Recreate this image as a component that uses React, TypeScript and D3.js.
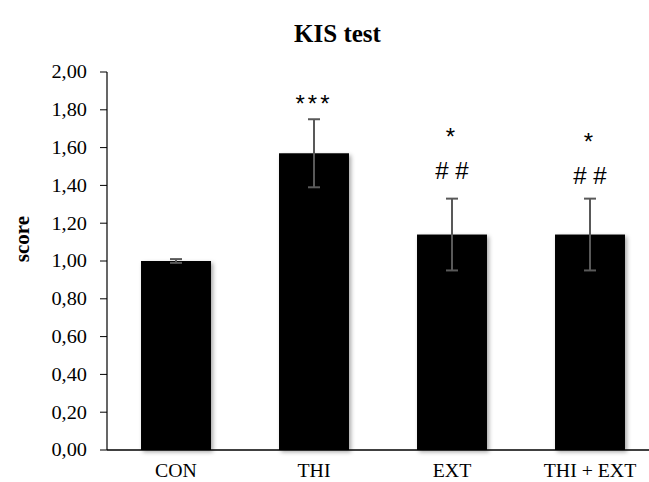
import React from "react";
import * as d3 from "d3";

const categories = ["CON", "THI", "EXT", "THI + EXT"];
const means = [1.0, 1.57, 1.14, 1.14];
const errors = [0.01, 0.18, 0.19, 0.19];
const starLabels = ["", "***", "*", "*"];
const hashLabels = ["", "", "# #", "# #"];
const yTicks = [0, 0.2, 0.4, 0.6, 0.8, 1.0, 1.2, 1.4, 1.6, 1.8, 2.0];

// layout only: small vertical nudge of annotation groups
const annotNudge = [0, 0, 0, 5];

const W = 649;
const H = 482;
const left = 107;
const top = 72;
const bottom = 450;
const step = 138;

export default function App() {
  const x = d3
    .scaleBand<string>()
    .domain(categories)
    .range([left, left + step * categories.length])
    .paddingInner(0.493)
    .paddingOuter(0.2465);
  const y = d3.scaleLinear().domain([0, 2]).range([bottom, top]);
  const fmt = (v: number) => v.toFixed(2).replace(".", ",");
  const serif = "'Liberation Serif', 'Times New Roman', serif";
  const sans = "'Liberation Sans', Arial, sans-serif";

  return (
    <svg
      width={W}
      height={H}
      style={{ position: "absolute", left: 0, top: 0, background: "#fff" }}
      fontFamily={serif}
    >
      <defs>
        <filter id="shadow" x="-20%" y="-20%" width="140%" height="140%">
          <feDropShadow dx="2" dy="2" stdDeviation="2" floodColor="#000" floodOpacity="0.35" />
        </filter>
      </defs>
      <rect width={W} height={H} fill="#fff" />
      <text x={337.5} y={42} textAnchor="middle" fontSize={25} fontWeight="bold">
        KIS test
      </text>
      <text
        transform={`translate(29, 239) rotate(-90)`}
        textAnchor="middle"
        fontSize={21}
        fontWeight="bold"
      >
        score
      </text>
      {/* y ticks */}
      {yTicks.map((t) => (
        <g key={t}>
          <line x1={left - 7} x2={left} y1={y(t)} y2={y(t)} stroke="#000" strokeWidth={1} />
          <text
            transform={`translate(${left - 20}, ${y(t)}) scale(1.13, 1)`}
            dy="0.35em"
            textAnchor="end"
            fontSize={18}
          >
            {fmt(t)}
          </text>
        </g>
      ))}
      {/* bars */}
      {categories.map((c, i) => (
        <rect
          key={c}
          x={x(c)!}
          y={y(means[i])}
          width={x.bandwidth()}
          height={bottom - y(means[i])}
          fill="#000"
          filter="url(#shadow)"
        />
      ))}
      {/* axes */}
      <line x1={left} x2={left} y1={top} y2={bottom} stroke="#000" strokeWidth={1.2} />
      <line x1={left} x2={W} y1={bottom} y2={bottom} stroke="#000" strokeWidth={1.5} />
      {/* error bars */}
      {categories.map((c, i) => {
        const cx = x(c)! + x.bandwidth() / 2;
        const y1 = y(means[i] + errors[i]);
        const y2 = y(means[i] - errors[i]);
        return (
          <g key={c} stroke="#595959" strokeWidth={2}>
            <line x1={cx} x2={cx} y1={y1} y2={y2} />
            <line x1={cx - 6} x2={cx + 6} y1={y1} y2={y1} />
            <line x1={cx - 6} x2={cx + 6} y1={y2} y2={y2} />
          </g>
        );
      })}
      {/* annotations */}
      {categories.map((c, i) => {
        const cx = x(c)! + x.bandwidth() / 2;
        const yTop = y(means[i] + errors[i]) + annotNudge[i];
        return (
          <g key={c} fontFamily={sans} fontSize={24}>
            {starLabels[i] && (
              <text
                x={cx}
                y={hashLabels[i] ? yTop - 54 : yTop - 7}
                textAnchor="middle"
                letterSpacing={3}
              >
                {starLabels[i]}
              </text>
            )}
            {hashLabels[i] && (
              <text x={cx} y={yTop - 20} textAnchor="middle">
                {hashLabels[i]}
              </text>
            )}
          </g>
        );
      })}
      {/* x labels */}
      {categories.map((c) => (
        <text
          key={c}
          transform={`translate(${x(c)! + x.bandwidth() / 2}, ${bottom + 27}) scale(1.1, 1)`}
          textAnchor="middle"
          fontSize={18}
        >
          {c}
        </text>
      ))}
    </svg>
  );
}
